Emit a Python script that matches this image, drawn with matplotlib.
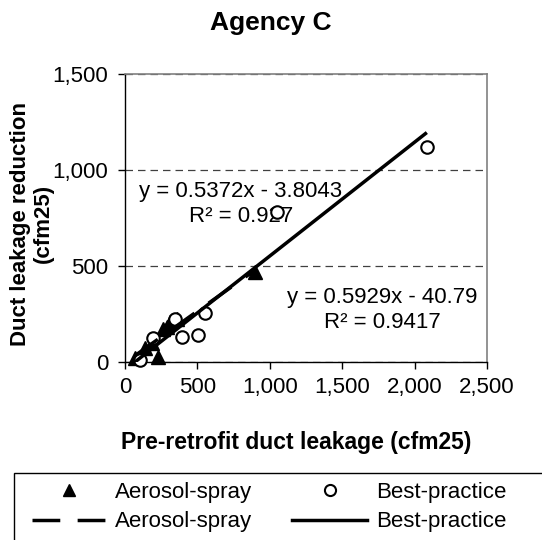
import matplotlib
matplotlib.use("Agg")
import matplotlib.pyplot as plt
from matplotlib.lines import Line2D
from matplotlib.patches import Rectangle
import numpy as np

plt.rcParams['font.family'] = ['Liberation Sans', 'DejaVu Sans']

# ---- data ----
aerosol_x = [70, 138, 184, 230, 260, 288, 311, 357, 900]
aerosol_y = [20, 71, 97, 25, 170, 183, 208, 226, 470]
best_x = [104, 196, 345, 391, 506, 552, 1052, 2083]
best_y = [10, 123, 226, 131, 140, 255, 783, 1118]

# trend lines (slope, intercept, x-range) as drawn
aerosol_fit = (0.5372, -3.8043)
aerosol_range = [70, 900]
best_fit = (0.5929, -40.79)
best_range = [70, 2075]

eq_upper = "y = 0.5372x - 3.8043\nR² = 0.927"
eq_lower = "y = 0.5929x - 40.79\nR² = 0.9417"

xticks = [0, 500, 1000, 1500, 2000, 2500]
yticks = [0, 500, 1000, 1500]

W, H = 542, 540
fig = plt.figure(figsize=(W / 100, H / 100), dpi=100)
L, R, T, B = 125, 487, 74, 362
ax = fig.add_axes([L / W, 1 - B / H, (R - L) / W, (B - T) / H])

ax.set_xlim(0, 2500)
ax.set_ylim(0, 1500)
ax.set_xticks(xticks)
ax.set_yticks(yticks)
ax.set_xticklabels([f"{v:,}" for v in xticks])
ax.set_yticklabels([f"{v:,}" for v in yticks])
ax.tick_params(axis='both', direction='out', length=5, width=1, labelsize=16, colors='black')
ax.tick_params(axis='y', pad=7)
ax.tick_params(axis='x', pad=6)

for s in ['top', 'right']:
    ax.spines[s].set_color('#808080')
    ax.spines[s].set_linewidth(1.2)
for s in ['left', 'bottom']:
    ax.spines[s].set_color('black')
    ax.spines[s].set_linewidth(1.0)

ax.yaxis.grid(True, linestyle=(0, (6, 4)), color='#404040', linewidth=0.9)
ax.set_axisbelow(True)

# points
ax.plot(aerosol_x, aerosol_y, linestyle='none', marker='^', color='black',
        markersize=9.5, zorder=3, clip_on=False)
ax.plot(best_x, best_y, linestyle='none', marker='o', markerfacecolor='white',
        markeredgecolor='black', markeredgewidth=1.5, markersize=9, zorder=3,
        clip_on=False)

# trend lines (drawn over the markers, as in the reference)
xa = np.array(aerosol_range, dtype=float)
ax.plot(xa, aerosol_fit[0] * xa + aerosol_fit[1], color='black', lw=2.5,
        dashes=(8, 5), zorder=4)
xb = np.array(best_range, dtype=float)
ax.plot(xb, best_fit[0] * xb + best_fit[1], color='black', lw=2.5, zorder=4)

ax.text(801, 822, eq_upper, ha='center', va='center', fontsize=16,
        linespacing=1.25, multialignment='center', zorder=2)
ax.text(1775, 269, eq_lower, ha='center', va='center', fontsize=16,
        linespacing=1.25, multialignment='center', zorder=2)

ax.set_ylabel("Duct leakage reduction\n(cfm25)", fontsize=16, fontweight='bold',
              linespacing=1.1)
ax.yaxis.label.set_va('center')
ax.yaxis.set_label_coords((32 - L) / (R - L), 0.48)
ax.set_xlabel("Pre-retrofit duct leakage (cfm25)", fontsize=16.5, fontweight='bold')
ax.xaxis.label.set_va('center')
ax.xaxis.set_label_coords((296 - L) / (R - L), (B - 443) / (B - T))

fig.text(0.5, 1 - 23 / H, "Agency C", ha='center', va='center', fontsize=19,
         fontweight='bold')

# legend
h_tri = Line2D([], [], linestyle='none', marker='^', color='black', markersize=9)
h_dash = Line2D([], [], color='black', lw=2.5, dashes=(8, 5))
h_circ = Line2D([], [], linestyle='none', marker='o', markerfacecolor='white',
                markeredgecolor='black', markeredgewidth=1.5, markersize=8)
h_solid = Line2D([], [], color='black', lw=2.5)
leg = fig.legend([h_tri, h_dash, h_circ, h_solid],
                 ["Aerosol-spray", "Aerosol-spray", "Best-practice", "Best-practice"],
                 ncol=2, frameon=False, loc='upper left',
                 bbox_to_anchor=(32 / W, 1 - 482 / H), borderpad=0, borderaxespad=0,
                 handlelength=3.35, handletextpad=0.4, columnspacing=1.8,
                 labelspacing=0.38, fontsize=16)
fig.patches.append(Rectangle((14 / W, -0.1), 1.2, (H - 473) / H + 0.1,
                             transform=fig.transFigure, fill=False,
                             edgecolor='black', linewidth=1.0))

fig.savefig("out.png", dpi=100)
